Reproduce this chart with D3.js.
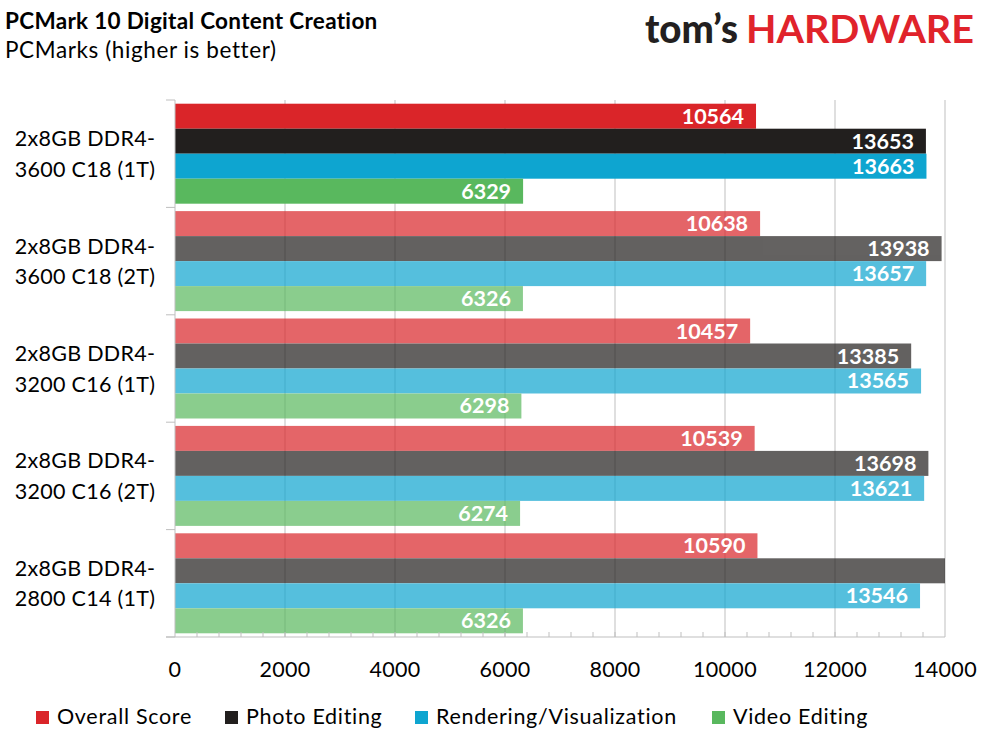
<!DOCTYPE html>
<html><head><meta charset="utf-8">
<script src="https://cdn.jsdelivr.net/npm/d3@7"></script>
<style>body{margin:0;background:#fff}svg{display:block}text{font-family:Lato,"Open Sans",sans-serif}</style>
</head><body>
<svg id="c" width="989" height="741"></svg>
<script>
const categories = [
  ["2x8GB DDR4-","3600 C18 (1T)"],
  ["2x8GB DDR4-","3600 C18 (2T)"],
  ["2x8GB DDR4-","3200 C16 (1T)"],
  ["2x8GB DDR4-","3200 C16 (2T)"],
  ["2x8GB DDR4-","2800 C14 (1T)"]
];
const seriesNames = ["Overall Score","Photo Editing","Rendering/Visualization","Video Editing"];
const overallScore = [10564,10638,10457,10539,10590];
const photoEditing = [13653,13938,13385,13698,14050];
const renderingVisualization = [13663,13657,13565,13621,13546];
const videoEditing = [6329,6326,6298,6274,6326];
const xTicks = [0,2000,4000,6000,8000,10000,12000,14000];
const seriesColors = ["#DA2529","#221F1E","#0EA5D0","#59B85E"];

const values = [overallScore, photoEditing, renderingVisualization, videoEditing];
const svg = d3.select("#c");
const L = 175, R = 945, T = 100, B = 637;
const xMax = 14000;
const x = d3.scaleLinear().domain([0, xMax]).range([L, R]).clamp(true);
const idx = d3.range(categories.length);
const y0 = d3.scaleBand().domain(idx).range([T, B]).paddingInner(0.069).paddingOuter(0.0345);
const y1 = d3.scaleBand().domain(d3.range(seriesNames.length)).range([0, y0.bandwidth()]);
const step = y0.step();
const axisColor = "#BFBFBF";

// title
svg.append("text").attr("x",5).attr("y",29).attr("font-size",22.5).attr("font-weight","bold").attr("fill","#000")
  .attr("letter-spacing",0.3).text("PCMark 10 Digital Content Creation");
svg.append("text").attr("x",5).attr("y",58).attr("font-size",22.5).attr("fill","#000")
  .attr("letter-spacing",0.6).text("PCMarks (higher is better)");
// logo
svg.append("text").attr("x",645).attr("y",43).attr("font-size",40).attr("font-weight","900").attr("fill","#231F20")
  .attr("textLength",93).attr("lengthAdjust","spacingAndGlyphs").text("tom\u2019s");
svg.append("text").attr("x",746).attr("y",43).attr("font-size",39).attr("font-weight","bold").attr("fill","#E0232B")
  .attr("textLength",228).attr("lengthAdjust","spacingAndGlyphs").text("HARDWARE");

// gridlines
svg.append("g").selectAll("line").data(xTicks.filter(d=>d>0)).join("line")
  .attr("x1",d=>x(d)).attr("x2",d=>x(d)).attr("y1",T).attr("y2",B)
  .attr("stroke",axisColor).attr("stroke-width",1);

// bars
const groups = svg.append("g").selectAll("g").data(idx).join("g")
  .attr("transform",i=>`translate(0,${y0(i)})`)
  .attr("opacity",i=>i===0?1:0.7);
groups.selectAll("rect").data(i=>values.map((v,s)=>({s,v:v[i]}))).join("rect")
  .attr("x",x(0)).attr("y",d=>y1(d.s)).attr("height",y1.bandwidth())
  .attr("width",d=>x(d.v)-x(0)).attr("fill",d=>seriesColors[d.s]);

// bar labels
const lab = svg.append("g");
idx.forEach(i=>{
  values.forEach((v,s)=>{
    if (v[i] > xMax) return;
    lab.append("text").attr("x",x(v[i])-12).attr("y",y0(i)+y1(s)+y1.bandwidth()/2+7.5)
      .attr("text-anchor","end").attr("font-size",21.5).attr("font-weight","bold").attr("fill","#fff")
      .text(v[i]);
  });
});

// left axis
const ax = svg.append("g").attr("stroke",axisColor).attr("stroke-width",1);
ax.append("line").attr("x1",L).attr("x2",L).attr("y1",T).attr("y2",B);
d3.range(categories.length+1).forEach(k=>{
  const yy = T + k*step;
  ax.append("line").attr("x1",L-9).attr("x2",L).attr("y1",yy).attr("y2",yy);
});
// bottom axis
ax.append("line").attr("x1",L-9).attr("x2",R).attr("y1",B).attr("y2",B);
d3.range(400, xMax, 400).forEach(v=>{
  ax.append("line").attr("x1",x(v)).attr("x2",x(v)).attr("y1",B).attr("y2",B-5);
});

// category labels
idx.forEach(i=>{
  const cy = y0(i) + y0.bandwidth()/2;
  const t = svg.append("text").attr("text-anchor","middle").attr("font-size",21.5).attr("fill","#000")
    .attr("letter-spacing",0.3);
  t.append("tspan").attr("x",85).attr("y",cy-7.5).text(categories[i][0]);
  t.append("tspan").attr("x",85).attr("y",cy+23).text(categories[i][1]);
});

// x tick labels
svg.append("g").selectAll("text").data(xTicks).join("text")
  .attr("x",d=>x(d)).attr("y",677).attr("text-anchor","middle").attr("font-size",21.5).attr("fill","#000")
  .attr("letter-spacing",0.3).text(d=>d);

// legend
const legX = [36,225,415,712];
seriesNames.forEach((n,s)=>{
  svg.append("rect").attr("x",legX[s]).attr("y",711).attr("width",13).attr("height",13).attr("fill",seriesColors[s]);
  svg.append("text").attr("x",legX[s]+21).attr("y",724).attr("font-size",21.5).attr("fill","#000")
    .attr("letter-spacing",0.7).text(n);
});
</script>
</body></html>
